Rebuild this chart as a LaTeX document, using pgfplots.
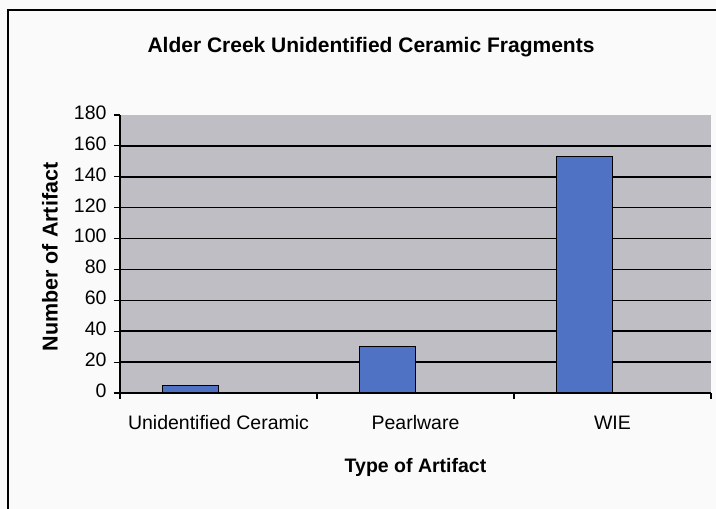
\documentclass[border=0pt]{standalone}
\usepackage{pgfplots}
\pgfplotsset{compat=1.18}
\usepackage{fontspec}
\setmainfont{Liberation Sans}
\definecolor{plotbg}{RGB}{192,190,197}
\definecolor{barblue}{RGB}{80,114,196}
\definecolor{pagebg}{RGB}{250,250,250}
\begin{document}
\begin{tikzpicture}[x=1pt,y=1pt]
\fill[pagebg] (0,0) rectangle (716,509);
\path[use as bounding box] (0,0) rectangle (716,509);
\draw[line width=2pt] (8,-5) -- (8,499) -- (725,499);
\node[font=\bfseries\fontsize{21}{25}\selectfont] at (371,462) {Alder Creek Unidentified Ceramic Fragments};
\begin{axis}[
  at={(120pt,116pt)}, anchor=south west,
  width=591pt, height=278pt, scale only axis,
  ybar, bar width=56pt, bar shift=-28pt,
  xmin=0, xmax=3, ymin=0, ymax=180,
  axis background/.style={fill=plotbg},
  axis x line*=bottom, axis y line*=left,
  axis line style={black, line width=1.4pt, -},
  tick align=outside,
  major tick length=6pt,
  tick style={black, line width=1.2pt},
  xtick={0,1,2,3},
  xticklabels={},
  extra x ticks={0.5,1.5,2.5},
  extra x tick labels={Unidentified Ceramic, Pearlware, WIE},
  extra x tick style={xtick style={draw=none}},
  ytick={0,20,...,160},
  extra y ticks={180},
  extra y tick style={grid=none},
  ymajorgrids,
  major grid style={black, line width=1.5pt},
  /pgf/number format/assume math mode=true,
  typeset ticklabels with strut,
  ticklabel style={font=\fontsize{19.5}{22}\selectfont},
  yticklabel style={anchor=east, xshift=-4pt},
  xticklabel style={anchor=north, yshift=-12pt},
  xlabel={Type of Artifact},
  ylabel={Number of Artifact},
  every axis x label/.style={at={(axis description cs:0.5,0)}, anchor=center, yshift=-74pt, font=\bfseries\fontsize{19.5}{23}\selectfont},
  every axis y label/.style={at={(axis description cs:0,0.5)}, anchor=center, xshift=-70pt, yshift=-3pt, rotate=90, font=\bfseries\fontsize{21.5}{25}\selectfont},
]
\addplot[fill=barblue, draw=black, line width=1.2pt] coordinates {(0.5,5) (1.5,30) (2.5,153)};
\end{axis}
\end{tikzpicture}
\end{document}
